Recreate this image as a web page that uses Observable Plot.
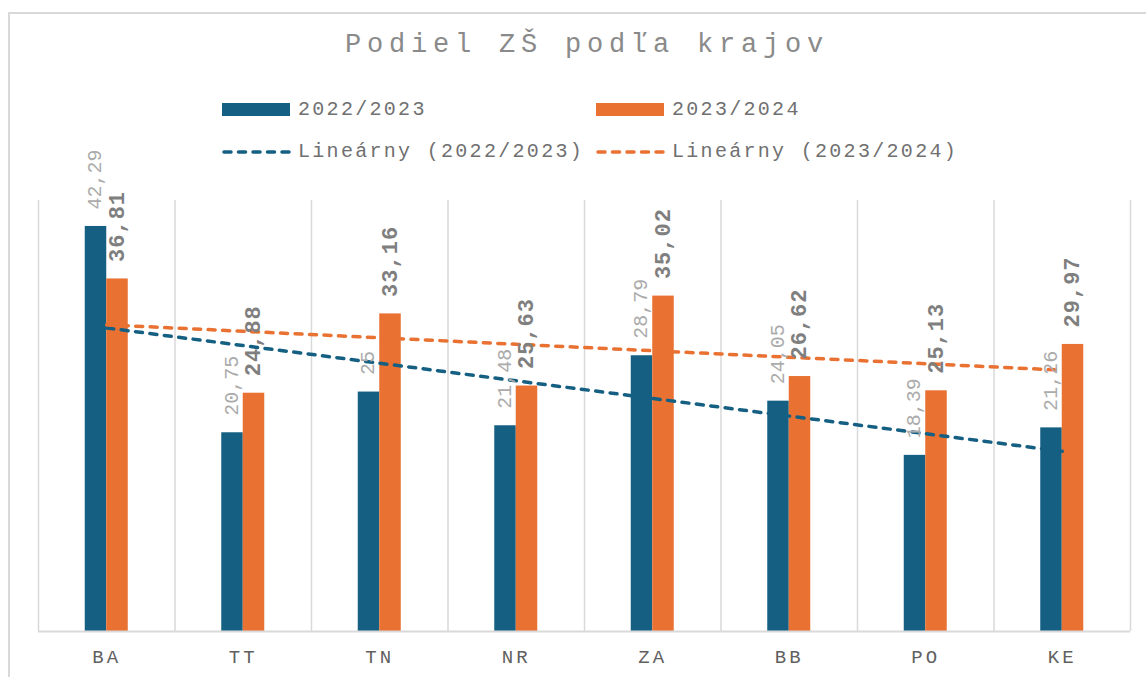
<!DOCTYPE html>
<html>
<head>
<meta charset="utf-8">
<script src="https://cdn.jsdelivr.net/npm/d3@7"></script>
<script src="https://cdn.jsdelivr.net/npm/@observablehq/plot@0.6"></script>
<style>
  html, body { margin: 0; padding: 0; background: #fff; width: 1146px; height: 677px; overflow: hidden; }
  #wrap { position: relative; width: 1146px; height: 677px; }
  #frame { position: absolute; left: 8px; top: 12px; width: 1200px; height: 700px; border: 2px solid #d9d9d9; box-sizing: border-box; pointer-events: none; }
  #header { position: relative; height: 180px; }
  #title { position: absolute; left: 40px; right: 12px; top: 30px; text-align: center; font-family: "Liberation Mono", monospace; font-size: 27px; letter-spacing: 5.8px; color: #8a8a8a; }
  .leg { position: absolute; display: flex; align-items: center; font-family: "Liberation Mono", monospace; font-size: 20px; letter-spacing: 2.3px; color: #707070; }
  .sw { width: 68px; height: 13px; margin-right: 8px; }
  .ln { width: 70px; height: 10px; margin-right: 6px; }
  #chart svg text { font-family: "Liberation Mono", monospace; }
  g[aria-label="x-axis tick label"] text { letter-spacing: 3px; }
  g[font-weight="bold"] text { letter-spacing: 1px; }
</style>
</head>
<body>
<div id="wrap">
  <div id="frame"></div>
  <div id="header">
    <div id="title">Podiel ZŠ podľa krajov</div>
    <div id="legend"></div>
  </div>
  <div id="chart"></div>
</div>
<script>
const regions = ["BA", "TT", "TN", "NR", "ZA", "BB", "PO", "KE"];
const values2022 = [42.29, 20.75, 25, 21.48, 28.79, 24.05, 18.39, 21.26];
const values2023 = [36.81, 24.88, 33.16, 25.63, 35.02, 26.62, 25.13, 29.97];
const seriesNames = ["2022/2023", "2023/2024"];
const trendNames = ["Lineárny (2022/2023)", "Lineárny (2023/2024)"];
const colors = ["#156082", "#E97132"];

const data = regions.map((r, k) => ({region: r, i: k + 1, a: values2022[k], b: values2023[k]}));
const bw = 0.1575; // single bar width in category units
const fmt = v => String(v).replace(".", ",");

// Legend (HTML)
const legend = document.getElementById("legend");
const legX = [222, 596];
seriesNames.forEach((name, k) => {
  const el = document.createElement("div");
  el.className = "leg";
  el.style.left = legX[k] + "px";
  el.style.top = "98px";
  el.innerHTML = `<div class="sw" style="background:${colors[k]}"></div><span>${name}</span>`;
  legend.appendChild(el);
});
trendNames.forEach((name, k) => {
  const el = document.createElement("div");
  el.className = "leg";
  el.style.left = legX[k] + "px";
  el.style.top = "140px";
  el.innerHTML = `<svg class="ln" width="70" height="10"><line x1="2" y1="5" x2="68" y2="5" stroke="${colors[k]}" stroke-width="3.5" stroke-dasharray="7,7.5" stroke-linecap="round"/></svg><span>${name}</span>`;
  legend.appendChild(el);
});

const chart = Plot.plot({
  width: 1146,
  height: 497,
  marginLeft: 38,
  marginRight: 16,
  marginTop: 20,
  marginBottom: 46,
  style: {overflow: "visible", background: "transparent"},
  x: {domain: [0.5, regions.length + 0.5], axis: null},
  y: {domain: [0, 45], axis: null},
  marks: [
    Plot.ruleX(d3.range(0.5, regions.length + 1, 1), {y1: 0, y2: 45, stroke: "#d9d9d9", strokeWidth: 1.5}),
    Plot.rectY(data, {x1: d => d.i - bw, x2: d => d.i, y: "a", fill: colors[0]}),
    Plot.rectY(data, {x1: d => d.i, x2: d => d.i + bw, y: "b", fill: colors[1]}),
    Plot.ruleY([0], {stroke: "#d9d9d9", strokeWidth: 2}),
    Plot.linearRegressionY(data, {x: "i", y: "a", stroke: colors[0], strokeWidth: 3.5, strokeDasharray: "7,7.5", strokeLinecap: "round", ci: 0}),
    Plot.linearRegressionY(data, {x: "i", y: "b", stroke: colors[1], strokeWidth: 3.5, strokeDasharray: "7,7.5", strokeLinecap: "round", ci: 0}),
    Plot.text(data, {x: d => d.i - bw / 2 - 0.01, y: "a", text: d => fmt(d.a), rotate: -90, textAnchor: "start", lineAnchor: "middle", dy: -17, fill: "#ababab", fontSize: 20, fontFamily: "Liberation Mono"}),
    Plot.text(data, {x: d => d.i + bw / 2 - 0.005, y: "b", text: d => fmt(d.b), rotate: -90, textAnchor: "start", lineAnchor: "middle", dy: -17, fill: "#7f7f7f", fontSize: 22, fontWeight: "bold", fontFamily: "DejaVu Sans Mono"}),
    Plot.axisX({ticks: data.map(d => d.i), tickFormat: i => regions[i - 1], tickSize: 0, tickPadding: 18, fontSize: 19, color: "#606060", label: null})
  ]
});
document.getElementById("chart").appendChild(chart);
</script>
</body>
</html>
